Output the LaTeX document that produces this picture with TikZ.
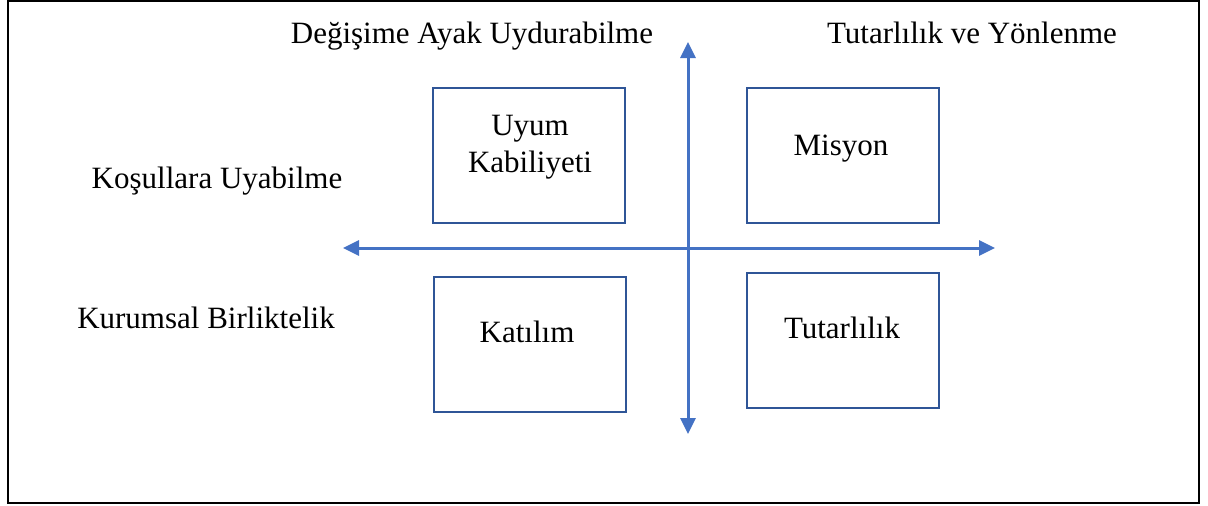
\documentclass[tikz,border=0pt]{standalone}
\usepackage{fontspec}
\setmainfont{Liberation Serif}
\usetikzlibrary{arrows.meta}
\definecolor{axisblue}{HTML}{4472C4}
\definecolor{boxblue}{HTML}{2F5597}
\tikzset{
  qbox/.style={draw=boxblue, line width=2pt, minimum width=192pt, minimum height=135pt, inner sep=0pt},
  lbl/.style={anchor=base, inner sep=0pt, font=\fontsize{31}{36}\selectfont},
  boxlbl/.style={anchor=base, inner sep=0pt, font=\fontsize{31}{36}\selectfont},
  axisarrow/.style={draw=axisblue, line width=3pt, {Triangle[length=16pt,width=15pt]}-{Triangle[length=16pt,width=15pt]}}
}
\begin{document}
\begin{tikzpicture}[x=1pt,y=-1pt]
\useasboundingbox (0,0) rectangle (1208,506);
\draw[line width=2pt] (8,1) rectangle (1199,503);
% boxes
\node[qbox] (uyum) at (529,155.5) {};
\node[qbox] (misyon) at (842.5,155) {};
\node[qbox] (katilim) at (529.5,344) {};
\node[qbox] (tutar) at (842.5,340.5) {};
% box texts
\node[boxlbl] (uyum1) at (530,135) {Uyum};
\node[boxlbl] (uyum2) at (530,172) {Kabiliyeti};
\node[boxlbl] (misyonT) at (841,155) {Misyon};
\node[boxlbl] (katilimT) at (527,342) {Katılım};
\node[boxlbl] (tutarT) at (842,338) {Tutarlılık};
% axis labels
\node[lbl] (degisim) at (472,43) {Değişime Ayak Uydurabilme};
\node[lbl] (tutyon) at (972,43) {Tutarlılık ve Yönlenme};
\node[lbl] (kosul) at (217,188) {Koşullara Uyabilme};
\node[lbl] (kurum) at (206,328) {Kurumsal Birliktelik};
% axes
\coordinate (L) at (343,248);
\coordinate (R) at (995,248);
\coordinate (T) at (688,42);
\coordinate (B) at (688,434);
\draw[axisarrow] (L) -- (R);
\draw[axisarrow] (B) -- (T);
\end{tikzpicture}
\end{document}
